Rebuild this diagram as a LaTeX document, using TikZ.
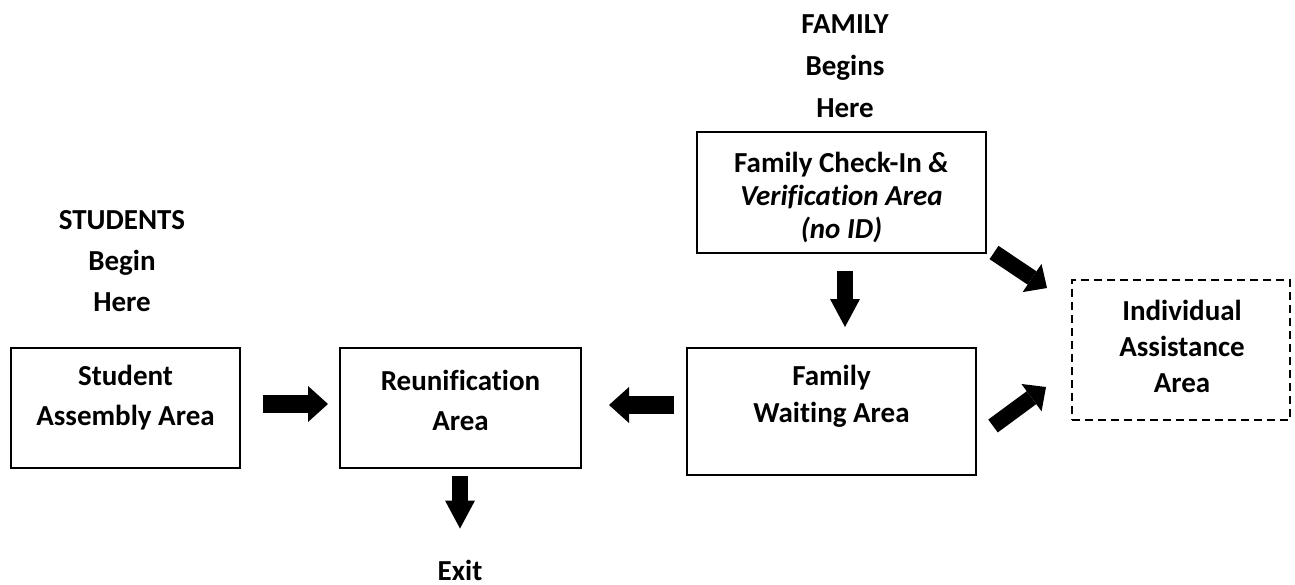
\documentclass[tikz,border=0pt]{standalone}
\usepackage{fontspec}
\setmainfont{Carlito}[Ligatures=NoCommon]
\usetikzlibrary{arrows.meta}
\tikzset{
  box/.style={draw, line width=2pt, inner sep=0pt},
  dbox/.style={draw, line width=2pt, inner sep=0pt, dash pattern=on 8pt off 5pt},
  txt/.style={align=center, inner sep=0pt, font=\fontsize{29}{#1}\selectfont\bfseries},
  harrow/.style={line width=18pt, -{Triangle[length=20pt,width=36pt,line width=0pt]}},
  varrow/.style={line width=16pt, -{Triangle[length=28pt,width=30pt,line width=0pt]}},
  darrow/.style={line width=16pt, -{Triangle[length=18pt,width=34pt,line width=0pt]}}
}
\begin{document}
\begin{tikzpicture}[x=1pt,y=-1pt]
\path[use as bounding box] (0,0) rectangle (1295,585);
% boxes
\node[box, minimum width=229pt, minimum height=120pt] (student) at (125.5,408) {};
\node[box, minimum width=241pt, minimum height=120pt] (reun) at (460.5,408) {};
\node[box, minimum width=289pt, minimum height=127pt] (waiting) at (831.5,411.5) {};
\node[box, minimum width=289pt, minimum height=121pt] (checkin) at (841.5,192.5) {};
\node[dbox, minimum width=218pt, minimum height=140pt] (indiv) at (1181,350) {};
% texts
\node[txt=42] (familylbl) at (845,66) {FAMILY\\Begins\\Here};
\node[txt=41] (studentslbl) at (122,261) {STUDENTS\\Begin\\Here};
\node[txt=40] (studentt) at (125.5,398) {Student\\Assembly Area};
\node[txt=40] (reunt) at (460.5,400) {Reunification\\Area};
\node[txt=37] (waitingt) at (831.5,396.5) {Family\\Waiting Area};
\node[txt=33] (checkint) at (841.5,197.5) {Family Check-In \textit{\&}\\\textit{Verification Area}\\\textit{(no ID)}};
\node[txt=36] (indivt) at (1182,346) {Individual\\Assistance\\Area};
\node[txt=40] (exit) at (460,570) {Exit};
% arrows
\draw[harrow, shorten <=22pt, shorten >=11pt] ([yshift=4pt]student.east) -- ([yshift=4pt]reun.west);
\draw[harrow, shorten <=12pt, shorten >=27pt] ([yshift=6.5pt]waiting.west) -- ([yshift=3pt]reun.east);
\draw[varrow, shorten <=7pt, shorten >=31pt] ([xshift=-0.5pt]reun.south) -- (exit.north);
\draw[varrow, shorten <=17pt, shorten >=20pt] ([xshift=3.5pt]checkin.south) -- ([xshift=13.5pt]waiting.north);
\draw[darrow] ([xshift=7pt,yshift=1.5pt]checkin.south east) -- ([xshift=-24pt,yshift=62pt]indiv.west);
\draw[darrow] ([xshift=16pt,yshift=-14.5pt]waiting.east) -- ([xshift=-25pt,yshift=-37pt]indiv.west);
\end{tikzpicture}
\end{document}
